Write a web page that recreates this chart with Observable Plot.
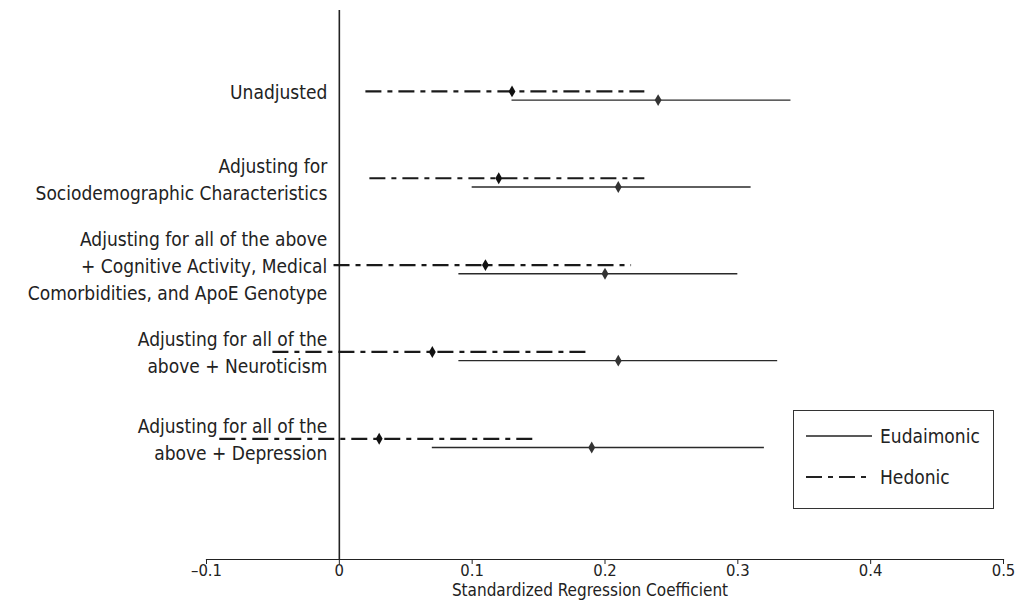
<!DOCTYPE html>
<html>
<head>
<meta charset="utf-8">
<script src="https://cdn.jsdelivr.net/npm/d3@7"></script>
<script src="https://cdn.jsdelivr.net/npm/@observablehq/plot@0.6"></script>
<style>
  html, body { margin: 0; padding: 0; background: #fff; }
  #chart { width: 1017px; height: 603px; }
</style>
</head>
<body>
<div id="chart"></div>
<script>
// ---- data ----
const rowLabels = [
  "Unadjusted",
  "Adjusting for\nSociodemographic Characteristics",
  "Adjusting for all of the above\n+ Cognitive Activity, Medical\nComorbidities, and ApoE Genotype",
  "Adjusting for all of the\nabove + Neuroticism",
  "Adjusting for all of the\nabove + Depression"
];
const eudEst = [0.24, 0.21, 0.20, 0.21, 0.19];
const eudLo  = [0.13, 0.10, 0.09, 0.09, 0.07];
const eudHi  = [0.34, 0.31, 0.30, 0.33, 0.32];
const hedEst = [0.13, 0.12, 0.11, 0.07, 0.03];
const hedLo  = [0.02, 0.023, -0.004, -0.05, -0.09];
const hedHi  = [0.23, 0.23, 0.22, 0.19, 0.15];
const xTicks = [-0.1, 0, 0.1, 0.2, 0.3, 0.4, 0.5];
const xTickLabels = ["\u20130.1", "0", "0.1", "0.2", "0.3", "0.4", "0.5"];
const seriesNames = ["Eudaimonic", "Hedonic"];
const xTitle = "Standardized Regression Coefficient";

const FONT = '"Liberation Sans Narrow", "DejaVu Sans Condensed", "Roboto Condensed", "Liberation Sans", sans-serif';
const HED_DASH = "16,6,5,6";
const off = 0.05;

const eud = rowLabels.map((l, i) => ({row: i + 1, est: eudEst[i], lo: eudLo[i], hi: eudHi[i]}));
const hed = rowLabels.map((l, i) => ({row: i + 1, est: hedEst[i], lo: hedLo[i], hi: hedHi[i], label: l}));
const tickLabelOf = new Map(xTicks.map((t, i) => [t, xTickLabels[i]]));

const chart = Plot.plot({
  width: 1017,
  height: 603,
  marginLeft: 206,
  marginRight: 14,
  marginTop: 10,
  marginBottom: 44,
  style: {fontFamily: FONT, fontSize: "16px", color: "#222", background: "#fff"},
  x: {domain: [-0.1, 0.5]},
  y: {domain: [0.018, 6.34], range: [10, 559], axis: null},
  marks: [
    Plot.ruleX([0], {stroke: "#222", strokeWidth: 1.6}),
    Plot.frame({anchor: "bottom", stroke: "#222", strokeWidth: 1.2}),
    Plot.axisX({ticks: xTicks, tickFormat: d => tickLabelOf.get(d), tickSize: 5, tickPadding: 0, label: null, fontSize: 16.5, stroke: "#222"}),
    Plot.ruleY(hed, {x1: "lo", x2: "hi", y: d => d.row - off, stroke: "#1a1a1a", strokeWidth: 2.2, strokeDasharray: HED_DASH}),
    Plot.ruleY(eud, {x1: "lo", x2: "hi", y: d => d.row + off, stroke: "#2a2a2a", strokeWidth: 1.4}),
    Plot.dot(hed, {x: "est", y: d => d.row - off, symbol: "diamond", r: 3.6, fill: "#111", stroke: "none"}),
    Plot.dot(eud, {x: "est", y: d => d.row + off, symbol: "diamond", r: 3.6, fill: "#333", stroke: "none"}),
    Plot.text(hed, {x: 0, y: d => d.row - off - 0.01, text: "label", dx: -12, textAnchor: "end", lineHeight: 1.42, fontSize: 19, fill: "#222"}),
    Plot.text([xTitle], {frameAnchor: "bottom", dy: 36, dx: -15, fontSize: 17, fill: "#222"})
  ]
});

document.getElementById("chart").appendChild(chart);

// ---- legend (drawn inside the plot's SVG) ----
const svg = d3.select(chart);
const lg = svg.append("g").attr("font-family", FONT).attr("font-size", 19).attr("fill", "#222").attr("text-anchor", "start");
lg.append("rect").attr("x", 793.5).attr("y", 410.5).attr("width", 200).attr("height", 98)
  .attr("fill", "#fff").attr("stroke", "#333").attr("stroke-width", 1);
const legendStyles = [
  {dash: null, w: 1.4},
  {dash: HED_DASH, w: 2.2}
];
seriesNames.forEach((name, i) => {
  const yy = 436 + i * 41;
  const ln = lg.append("line").attr("x1", 806).attr("x2", 872).attr("y1", yy).attr("y2", yy)
    .attr("stroke", "#222").attr("stroke-width", legendStyles[i].w);
  if (legendStyles[i].dash) ln.attr("stroke-dasharray", legendStyles[i].dash);
  lg.append("text").attr("x", 880).attr("y", yy).attr("dy", "0.35em").attr("text-anchor", "start").text(name);
});
</script>
</body>
</html>
